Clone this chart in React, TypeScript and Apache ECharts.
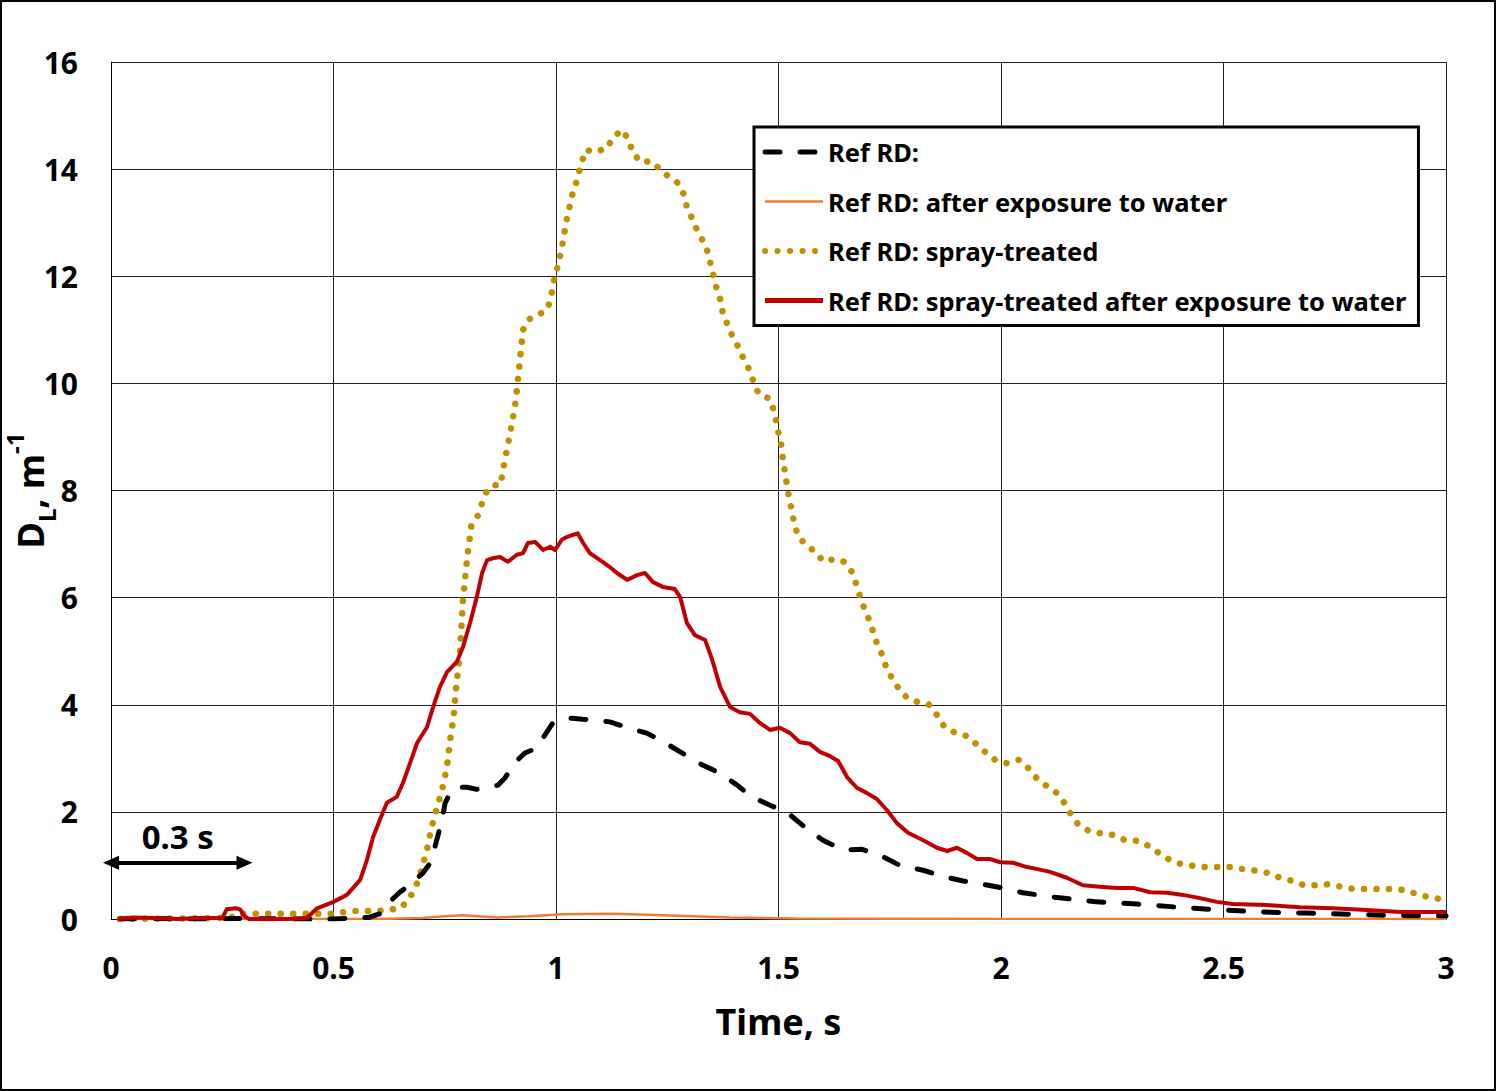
import React, { useEffect, useRef } from "react";
import * as echarts from "echarts";

const seriesNames = [
  "Ref RD:",
  "Ref RD: after exposure to water",
  "Ref RD: spray-treated",
  "Ref RD: spray-treated after exposure to water",
];

const xTicks = { min: 0, max: 3, interval: 0.5 };
const yTicks = { min: 0, max: 16, interval: 2 };

const refRd = [[0.02,0],[0.1,0.01],[0.2,0],[0.3,0.01],[0.4,0],[0.5,0],[0.58,0.03],[0.604,0.1],[0.63,0.35],[0.649,0.5],[0.676,0.67],[0.7,0.85],[0.717,1.04],[0.728,1.35],[0.744,1.85],[0.751,2.17],[0.765,2.4],[0.78,2.46],[0.8,2.46],[0.822,2.42],[0.845,2.45],[0.87,2.5],[0.885,2.63],[0.897,2.78],[0.915,2.98],[0.93,3.1],[0.957,3.19],[0.964,3.29],[0.98,3.5],[0.993,3.66],[1.013,3.72],[1.036,3.75],[1.06,3.73],[1.081,3.72],[1.121,3.68],[1.162,3.57],[1.204,3.47],[1.245,3.29],[1.283,3.1],[1.328,2.88],[1.364,2.74],[1.407,2.5],[1.44,2.28],[1.485,2.11],[1.521,1.98],[1.564,1.68],[1.6,1.47],[1.645,1.29],[1.688,1.3],[1.735,1.16],[1.773,1.0],[1.825,0.91],[1.867,0.8],[1.915,0.71],[1.957,0.65],[2.004,0.58],[2.049,0.49],[2.117,0.41],[2.215,0.32],[2.306,0.28],[2.398,0.22],[2.492,0.17],[2.589,0.13],[2.683,0.11],[2.777,0.09],[2.87,0.07],[2.964,0.06],[3.0,0.06]];

const refRdWater = [[0.02,0],[0.3,0],[0.6,0],[0.7,0.02],[0.75,0.05],[0.79,0.07],[0.867,0.03],[0.94,0.05],[1.016,0.09],[1.128,0.1],[1.24,0.07],[1.391,0.03],[1.54,0.01],[2.0,0],[3.0,0]];

const refRdSpray = [[0.02,0],[0.27,0.02],[0.28,0.1],[0.3,0.1],[0.4,0.1],[0.5,0.1],[0.54,0.15],[0.6,0.15],[0.65,0.2],[0.67,0.37],[0.69,0.7],[0.71,1.29],[0.72,1.7],[0.73,2.0],[0.744,2.41],[0.755,2.84],[0.762,3.34],[0.77,3.77],[0.775,4.28],[0.784,4.97],[0.791,5.96],[0.796,6.39],[0.802,6.85],[0.81,7.36],[0.825,7.54],[0.834,7.77],[0.845,8.0],[0.86,8.1],[0.875,8.1],[0.885,8.57],[0.9,9.2],[0.91,9.7],[0.926,11.0],[0.94,11.2],[0.964,11.3],[0.98,11.37],[0.989,11.6],[0.993,11.84],[1.0,12.06],[1.007,12.3],[1.013,12.53],[1.018,12.75],[1.022,12.99],[1.029,13.22],[1.034,13.46],[1.043,13.67],[1.05,13.9],[1.058,14.13],[1.067,14.36],[1.088,14.32],[1.115,14.39],[1.128,14.6],[1.15,14.73],[1.164,14.52],[1.173,14.3],[1.191,14.13],[1.213,14.15],[1.231,14.02],[1.252,13.87],[1.274,13.74],[1.288,13.52],[1.294,13.29],[1.305,13.09],[1.317,12.86],[1.33,12.66],[1.342,12.43],[1.348,12.21],[1.355,11.97],[1.362,11.74],[1.371,11.52],[1.375,11.3],[1.387,11.07],[1.398,10.85],[1.411,10.66],[1.422,10.45],[1.436,10.23],[1.445,10.0],[1.456,9.8],[1.481,9.71],[1.49,9.48],[1.496,9.26],[1.501,9.02],[1.508,8.79],[1.51,8.55],[1.515,8.33],[1.519,8.08],[1.524,7.86],[1.53,7.62],[1.535,7.39],[1.544,7.15],[1.562,6.98],[1.584,6.85],[1.6,6.68],[1.627,6.72],[1.647,6.67],[1.665,6.48],[1.674,6.27],[1.683,6.03],[1.692,5.81],[1.703,5.6],[1.712,5.38],[1.721,5.15],[1.733,4.93],[1.742,4.7],[1.755,4.5],[1.771,4.29],[1.789,4.13],[1.813,4.05],[1.838,4.0],[1.856,3.81],[1.872,3.6],[1.894,3.49],[1.921,3.42],[1.944,3.27],[1.964,3.12],[1.987,2.97],[2.013,2.91],[2.04,2.97],[2.061,2.82],[2.08,2.63],[2.103,2.48],[2.126,2.35],[2.142,2.17],[2.157,1.96],[2.173,1.77],[2.198,1.64],[2.225,1.6],[2.254,1.57],[2.279,1.47],[2.306,1.46],[2.333,1.36],[2.355,1.23],[2.38,1.1],[2.404,1.03],[2.434,0.99],[2.461,0.97],[2.49,0.97],[2.517,0.97],[2.546,0.93],[2.573,0.9],[2.6,0.86],[2.627,0.77],[2.656,0.71],[2.681,0.63],[2.71,0.63],[2.737,0.65],[2.766,0.6],[2.793,0.56],[2.822,0.56],[2.85,0.56],[2.879,0.56],[2.906,0.54],[2.933,0.47],[2.96,0.41],[2.989,0.37],[3.0,0.36]];

const refRdSprayWater = [[0.016,0],[0.05,0.03],[0.1,0.02],[0.15,0],[0.2,0.02],[0.25,0.02],[0.26,0.18],[0.28,0.2],[0.29,0.18],[0.3,0.05],[0.31,0],[0.35,0],[0.4,0],[0.44,0.02],[0.463,0.2],[0.5,0.32],[0.53,0.45],[0.56,0.73],[0.575,1.1],[0.589,1.53],[0.604,1.85],[0.62,2.17],[0.642,2.28],[0.656,2.54],[0.672,2.91],[0.688,3.29],[0.71,3.58],[0.724,3.96],[0.739,4.33],[0.755,4.61],[0.777,4.8],[0.791,5.08],[0.807,5.53],[0.822,6.01],[0.834,6.46],[0.845,6.7],[0.86,6.74],[0.874,6.76],[0.892,6.67],[0.912,6.8],[0.926,6.83],[0.937,7.02],[0.953,7.04],[0.971,6.89],[0.987,6.95],[0.998,6.89],[1.013,7.08],[1.024,7.13],[1.038,7.17],[1.049,7.2],[1.061,7.02],[1.076,6.83],[1.099,6.7],[1.121,6.57],[1.137,6.46],[1.16,6.33],[1.182,6.42],[1.2,6.46],[1.218,6.29],[1.24,6.2],[1.267,6.16],[1.279,6.01],[1.294,5.53],[1.312,5.3],[1.335,5.21],[1.351,4.84],[1.369,4.33],[1.391,3.96],[1.413,3.86],[1.436,3.83],[1.458,3.66],[1.481,3.53],[1.503,3.57],[1.526,3.47],[1.548,3.3],[1.571,3.27],[1.593,3.12],[1.616,3.04],[1.634,2.95],[1.654,2.65],[1.676,2.45],[1.699,2.35],[1.721,2.24],[1.744,2.03],[1.766,1.79],[1.791,1.61],[1.825,1.47],[1.856,1.33],[1.879,1.27],[1.901,1.33],[1.924,1.23],[1.946,1.12],[1.975,1.12],[1.998,1.06],[2.027,1.05],[2.058,0.97],[2.072,0.95],[2.11,0.88],[2.148,0.77],[2.184,0.63],[2.222,0.6],[2.26,0.58],[2.297,0.58],[2.335,0.5],[2.373,0.49],[2.409,0.45],[2.447,0.39],[2.485,0.32],[2.521,0.28],[2.598,0.26],[2.672,0.22],[2.746,0.2],[2.822,0.17],[2.897,0.13],[2.971,0.13],[3.0,0.13]];

const arrowSpan = [0, 0.3];
const arrowLevel = 1.05;
const arrowLabel = "0.3 s";

const FONT = "'Noto Sans', 'Open Sans', sans-serif";

export default function App() {
  const ref = useRef<HTMLDivElement>(null);

  useEffect(() => {
    if (!ref.current) return;
    const chart = echarts.init(ref.current, undefined, { renderer: "svg" });
    const legendWidths = [5, 2.5, 6, 5];
    const option: any = {
      animation: false,
      backgroundColor: "#fff",
      textStyle: { fontFamily: FONT },
      grid: { left: 111, top: 62, right: 50, bottom: 172, containLabel: false, outerBoundsMode: "none" },
      graphic: [
        {
          type: "rect",
          shape: { x: 1, y: 1, width: 1494, height: 1089 },
          style: { fill: "none", stroke: "#000", lineWidth: 2 },
          silent: true,
        },
      ],
      legend: {
        data: seriesNames.map((n, i) => ({ name: n, lineStyle: { width: legendWidths[i] } })),
        orient: "vertical",
        left: 754,
        top: 127,
        itemWidth: 58,
        itemHeight: 14,
        itemGap: 19.5,
        padding: [10, 12, 10, 8],
        borderColor: "#000",
        borderWidth: 3,
        backgroundColor: "#fff",
        itemStyle: { opacity: 0 },
        textStyle: {
          fontFamily: FONT,
          fontWeight: "bold",
          fontSize: 25.5,
          color: "#000",
          lineHeight: 30,
        },
      },
      xAxis: {
        type: "value",
        min: xTicks.min,
        max: xTicks.max,
        interval: xTicks.interval,
        name: "Time, s",
        nameLocation: "middle",
        nameGap: 84,
        nameMoveOverlap: false,
        nameTextStyle: { fontFamily: FONT, fontWeight: "bold", fontSize: 36, color: "#000" },
        axisLine: { show: true, lineStyle: { color: "#000", width: 1 } },
        axisTick: { show: false },
        axisLabel: { fontFamily: FONT, fontWeight: "bold", fontSize: 30, color: "#000", margin: 33 },
        splitLine: { show: true, lineStyle: { color: "#222", width: 1 } },
      },
      yAxis: {
        type: "value",
        min: yTicks.min,
        max: yTicks.max,
        interval: yTicks.interval,
        name: "{b|D}{s|L}{b|, m}{p|-1}",
        nameLocation: "middle",
        nameGap: 53,
        nameRotate: 90,
        nameMoveOverlap: false,
        nameTextStyle: {
          color: "#000",
          rich: {
            b: { fontFamily: FONT, fontWeight: "bold", fontSize: 36, color: "#000", verticalAlign: "middle", lineHeight: 56 },
            s: { fontFamily: FONT, fontWeight: "bold", fontSize: 24, color: "#000", verticalAlign: "bottom", lineHeight: 54 },
            p: { fontFamily: FONT, fontWeight: "bold", fontSize: 24, color: "#000", verticalAlign: "top", lineHeight: 40 },
          },
        },
        axisLine: { show: true, lineStyle: { color: "#000", width: 1 } },
        axisTick: { show: false },
        axisLabel: { fontFamily: FONT, fontWeight: "bold", fontSize: 30, color: "#000", margin: 33 },
        splitLine: { show: true, lineStyle: { color: "#222", width: 1 } },
      },
      series: [
        {
          name: seriesNames[0],
          type: "line",
          data: refRd,
          symbol: "none",
          z: 3,
          itemStyle: { color: "#000" },
          lineStyle: { color: "#000", width: 5, type: [15, 20], cap: "round", join: "round" },
        },
        {
          name: seriesNames[1],
          type: "line",
          data: refRdWater,
          symbol: "none",
          z: 2,
          itemStyle: { color: "#ED7D31" },
          lineStyle: { color: "#ED7D31", width: 2.5 },
        },
        {
          name: seriesNames[2],
          type: "line",
          data: refRdSpray,
          symbol: "none",
          z: 2,
          itemStyle: { color: "#BF9000" },
          lineStyle: { color: "#BF9000", width: 6.5, type: [0.1, 12.4], cap: "round" },
        },
        {
          name: seriesNames[3],
          type: "line",
          data: refRdSprayWater,
          symbol: "none",
          z: 4,
          itemStyle: { color: "#C00000" },
          lineStyle: { color: "#C00000", width: 4, join: "round" },
        },
        {
          name: "annotation",
          type: "line",
          data: [],
          symbol: "none",
          markLine: {
            silent: true,
            symbol: ["triangle", "triangle"],
            symbolSize: [14, 16],
            lineStyle: { color: "#000", width: 4, type: "solid" },
            label: {
              show: true,
              position: "insideMiddleTop",
              formatter: arrowLabel,
              distance: 10,
              fontFamily: FONT,
              fontWeight: "bold",
              fontSize: 33,
              color: "#000",
            },
            data: [
              [
                { coord: [arrowSpan[0], arrowLevel] },
                { coord: [arrowSpan[1], arrowLevel] },
              ],
            ],
          },
        },
      ],
    };
    chart.setOption(option);
    return () => chart.dispose();
  }, []);

  return (
    <div
      ref={ref}
      style={{ position: "absolute", left: 0, top: 0, width: 1496, height: 1091 }}
    />
  );
}
